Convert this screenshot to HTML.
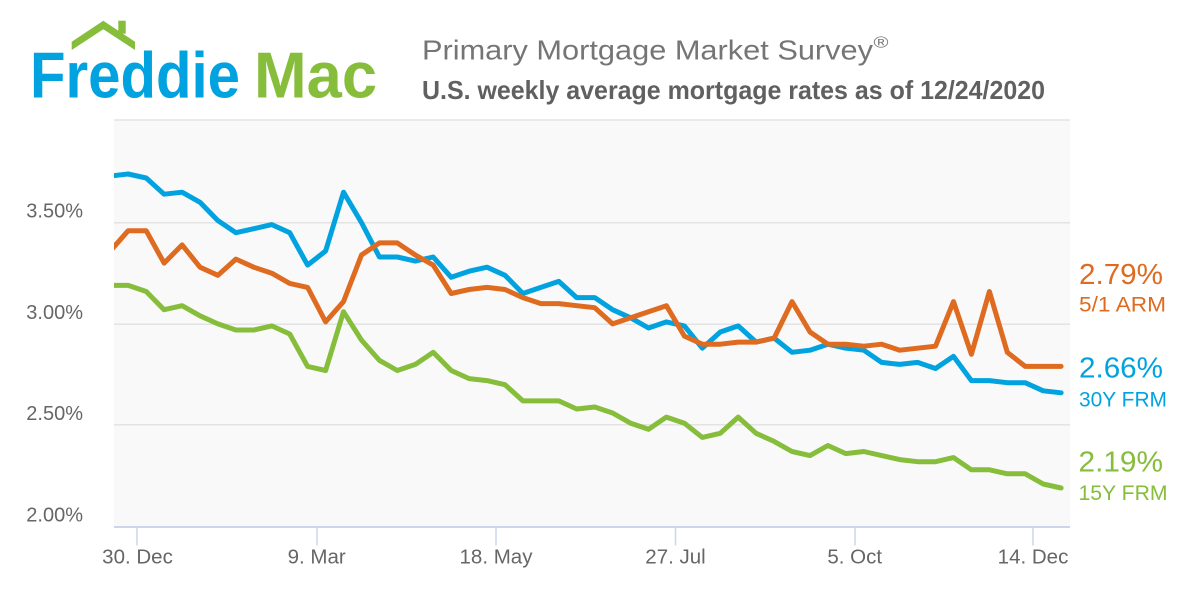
<!DOCTYPE html>
<html>
<head>
<meta charset="utf-8">
<style>
  html, body { margin: 0; padding: 0; background: #ffffff; }
  svg { display: block; }
  text { font-family: "Liberation Sans", Arial, sans-serif; }
</style>
</head>
<body>
<svg width="1200" height="600" viewBox="0 0 1200 600" xmlns="http://www.w3.org/2000/svg">
  <rect x="0" y="0" width="1200" height="600" fill="#ffffff"/>

  <!-- Logo -->
  <polygon points="71.7,41.7 103.3,20.7 135,41.7 135,50 103.3,29.3 71.7,50" fill="#86bd3b"/>
  <rect x="118.3" y="20.7" width="7.4" height="13" fill="#86bd3b"/>
  <text x="30" y="97.3" font-size="65" font-weight="bold" fill="#00a3e0" textLength="210" lengthAdjust="spacingAndGlyphs">Freddie</text>
  <text x="254" y="97.3" font-size="65" font-weight="bold" fill="#86bd3b" textLength="123" lengthAdjust="spacingAndGlyphs">Mac</text>

  <!-- Titles -->
  <text x="422" y="59.3" font-size="28" fill="#757575" textLength="451" lengthAdjust="spacingAndGlyphs">Primary Mortgage Market Survey</text>
  <text x="873.5" y="47.5" font-size="16" fill="#757575" textLength="15" lengthAdjust="spacingAndGlyphs">®</text>
  <text x="422" y="99" font-size="26" font-weight="bold" fill="#606060" textLength="623" lengthAdjust="spacingAndGlyphs">U.S. weekly average mortgage rates as of 12/24/2020</text>

  <!-- Plot background -->
  <rect x="114" y="119.5" width="956" height="407" fill="#f9f9f9"/>

  <!-- Gridlines -->
  <g stroke="#e3e3e3" stroke-width="1.5">
    <line x1="114" y1="120" x2="1070" y2="120"/>
    <line x1="114" y1="222.7" x2="1070" y2="222.7"/>
    <line x1="114" y1="324.3" x2="1070" y2="324.3"/>
    <line x1="114" y1="424.8" x2="1070" y2="424.8"/>
  </g>

  <!-- Axis line & ticks -->
  <g stroke="#ccd6eb">
    <line x1="114" y1="527" x2="1070" y2="527" stroke-width="2"/>
    <line x1="137" y1="527" x2="137" y2="545.5" stroke-width="1.5"/>
    <line x1="317" y1="527" x2="317" y2="545.5" stroke-width="1.5"/>
    <line x1="496" y1="527" x2="496" y2="545.5" stroke-width="1.5"/>
    <line x1="675.5" y1="527" x2="675.5" y2="545.5" stroke-width="1.5"/>
    <line x1="855" y1="527" x2="855" y2="545.5" stroke-width="1.5"/>
    <line x1="1033" y1="527" x2="1033" y2="545.5" stroke-width="1.5"/>
  </g>

  <!-- Y labels -->
  <g font-size="20" fill="#666666" text-anchor="end">
    <text x="83" y="217.5">3.50%</text>
    <text x="83" y="319.2">3.00%</text>
    <text x="83" y="420">2.50%</text>
    <text x="83" y="521.6">2.00%</text>
  </g>

  <!-- X labels -->
  <g font-size="20.5" fill="#666666" text-anchor="middle">
    <text x="137.5" y="563.3">30. Dec</text>
    <text x="316.7" y="563.3">9. Mar</text>
    <text x="496" y="563.3">18. May</text>
    <text x="675.5" y="563.3">27. Jul</text>
    <text x="854.7" y="563.3">5. Oct</text>
    <text x="1033" y="563.3">14. Dec</text>
  </g>

  <defs>
    <clipPath id="plotclip">
      <rect x="114" y="110" width="956" height="420"/>
    </clipPath>
  </defs>

  <g clip-path="url(#plotclip)" fill="none" stroke-width="5" stroke-linejoin="round" stroke-linecap="round">
    <!-- 15Y FRM -->
    <polyline stroke="#86bd3b" points="110.3,285.4 128.2,285.4 146.2,291.5 164.1,309.7 182.1,305.7 200.0,315.8 217.9,323.9 235.9,330.0 253.8,330.0 271.8,325.9 289.7,334.0 307.6,366.4 325.6,370.5 343.5,311.7 361.5,340.1 379.4,360.4 397.3,370.5 415.3,364.4 433.2,352.3 451.2,370.5 469.1,378.6 487.0,380.6 505.0,384.7 522.9,400.9 540.9,400.9 558.8,400.9 576.7,409.0 594.7,407.0 612.6,413.0 630.6,423.2 648.5,429.3 666.4,417.1 684.4,423.2 702.3,437.4 720.3,433.3 738.2,417.1 756.1,433.3 774.1,441.4 792.0,451.5 810.0,455.6 827.9,445.5 845.8,453.6 863.8,451.5 881.7,455.6 899.7,459.6 917.6,461.7 935.5,461.7 953.5,457.6 971.4,469.8 989.4,469.8 1007.3,473.8 1025.2,473.8 1043.2,484.0 1061.1,488.0"/>
    <!-- 30Y FRM -->
    <polyline stroke="#00a3e0" points="110.3,176.0 128.2,174.0 146.2,178.0 164.1,194.2 182.1,192.2 200.0,202.3 217.9,220.6 235.9,232.7 253.8,228.7 271.8,224.6 289.7,232.7 307.6,265.1 325.6,251.0 343.5,192.2 361.5,222.6 379.4,257.0 397.3,257.0 415.3,261.1 433.2,257.0 451.2,277.3 469.1,271.2 487.0,267.2 505.0,275.3 522.9,293.5 540.9,287.4 558.8,281.4 576.7,297.6 594.7,297.6 612.6,309.7 630.6,317.8 648.5,328.0 666.4,321.9 684.4,325.9 702.3,348.2 720.3,332.0 738.2,325.9 756.1,342.1 774.1,338.1 792.0,352.3 810.0,350.2 827.9,344.2 845.8,348.2 863.8,350.2 881.7,362.4 899.7,364.4 917.6,362.4 935.5,368.5 953.5,356.3 971.4,380.6 989.4,380.6 1007.3,382.7 1025.2,382.7 1043.2,390.8 1061.1,392.8"/>
    <!-- 5/1 ARM -->
    <polyline stroke="#de6b20" points="110.3,251.0 128.2,230.7 146.2,230.7 164.1,263.1 182.1,244.9 200.0,267.2 217.9,275.3 235.9,259.1 253.8,267.2 271.8,273.2 289.7,283.4 307.6,287.4 325.6,321.9 343.5,301.6 361.5,255.0 379.4,242.9 397.3,242.9 415.3,255.0 433.2,265.1 451.2,293.5 469.1,289.5 487.0,287.4 505.0,289.5 522.9,297.6 540.9,303.6 558.8,303.6 576.7,305.7 594.7,307.7 612.6,323.9 630.6,317.8 648.5,311.7 666.4,305.7 684.4,336.1 702.3,344.2 720.3,344.2 738.2,342.1 756.1,342.1 774.1,338.1 792.0,301.6 810.0,332.0 827.9,344.2 845.8,344.2 863.8,346.2 881.7,344.2 899.7,350.2 917.6,348.2 935.5,346.2 953.5,301.6 971.4,354.3 989.4,291.5 1007.3,352.3 1025.2,366.4 1043.2,366.4 1061.1,366.4"/>
  </g>

  <!-- Right-side labels -->
  <text x="1079" y="284" font-size="29" fill="#de6b20" textLength="84" lengthAdjust="spacingAndGlyphs">2.79%</text>
  <text x="1079" y="311.7" font-size="21.5" fill="#de6b20" textLength="87" lengthAdjust="spacingAndGlyphs">5/1 ARM</text>
  <text x="1079" y="377.3" font-size="29" fill="#00a3e0" textLength="84" lengthAdjust="spacingAndGlyphs">2.66%</text>
  <text x="1079" y="406.7" font-size="21.5" fill="#00a3e0" textLength="88" lengthAdjust="spacingAndGlyphs">30Y FRM</text>
  <text x="1078.5" y="471.7" font-size="29" fill="#86bd3b" textLength="84.5" lengthAdjust="spacingAndGlyphs">2.19%</text>
  <text x="1078.5" y="500" font-size="21.5" fill="#86bd3b" textLength="89" lengthAdjust="spacingAndGlyphs">15Y FRM</text>
</svg>
</body>
</html>
